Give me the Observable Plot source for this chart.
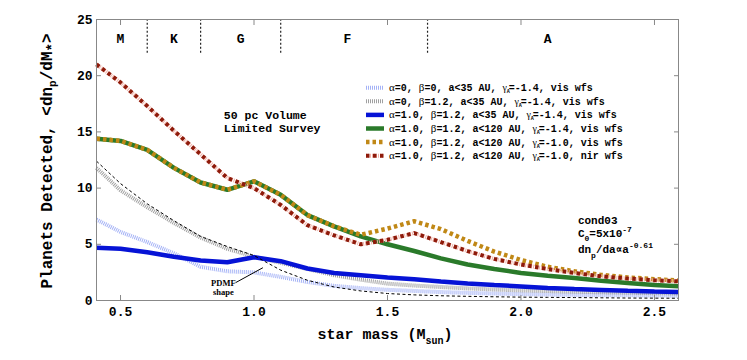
<!DOCTYPE html>
<html><head><meta charset="utf-8">
<script src="https://cdn.jsdelivr.net/npm/d3@7"></script>
<script src="https://cdn.jsdelivr.net/npm/@observablehq/plot@0.6"></script>
<style>body{margin:0;background:#fff}</style>
</head><body><div id="chart"></div>
<script>
// ---- data ----
const mass = [0.41,0.5,0.6,0.7,0.8,0.9,1.0,1.1,1.2,1.3,1.4,1.5,1.6,1.7,1.8,1.9,2.0,2.1,2.2,2.3,2.4,2.5,2.59];
const a0b0 = [7.2,6.1,5.2,4.2,3.0,2.6,2.5,2.1,1.65,1.3,1.1,0.95,0.85,0.75,0.68,0.62,0.57,0.53,0.5,0.48,0.46,0.44,0.43];
const a0b12 = [11.8,9.8,8.3,6.9,5.6,4.6,3.9,3.35,2.8,2.25,1.85,1.5,1.33,1.2,1.08,0.98,0.9,0.84,0.78,0.73,0.69,0.65,0.62];
const a1b12a35 = [4.7,4.6,4.3,3.9,3.55,3.4,3.85,3.5,2.85,2.45,2.25,2.05,1.9,1.7,1.52,1.38,1.25,1.12,1.02,0.94,0.86,0.8,0.76];
const a1b12a120g14 = [14.4,14.2,13.4,11.8,10.5,9.85,10.6,9.4,7.6,6.6,5.7,5.0,4.4,3.75,3.2,2.8,2.45,2.2,2.0,1.75,1.55,1.38,1.27];
const a1b12a120g10vis = [14.4,14.2,13.4,11.8,10.5,9.85,10.6,9.4,7.6,6.6,5.85,6.4,7.05,6.35,5.3,4.35,3.6,3.0,2.6,2.28,2.05,1.9,1.78];
const a1b12a120g10nir = [21.0,19.4,17.3,15.1,13.0,10.9,10.0,8.5,6.7,5.8,5.0,5.4,6.0,5.2,4.4,3.7,3.2,2.8,2.45,2.15,1.95,1.8,1.7];
const pdmfShape = [12.4,10.4,8.6,7.1,5.7,4.8,4.0,2.7,1.8,1.2,0.85,0.62,0.5,0.42,0.37,0.33,0.3,0.28,0.26,0.24,0.22,0.21,0.2];

const spectralBounds = [0.6, 0.8, 1.1, 1.65];
const spectralTypes = ["M","K","G","F","A"];
const spectralLabelX = [0.5, 0.7, 0.95, 1.35, 2.1];
const xTicks = [0.5, 1.0, 1.5, 2.0, 2.5];
const yTicks = [0, 5, 10, 15, 20, 25];

const legendLabels = [
  ["α","=0, ","β","=0, a<35 AU, ","γ","A","=-1.4, vis wfs"],
  ["α","=0, ","β","=1.2, a<35 AU, ","γ","A","=-1.4, vis wfs"],
  ["α","=1.0, ","β","=1.2, a<35 AU, ","γ","A","=-1.4, vis wfs"],
  ["α","=1.0, ","β","=1.2, a<120 AU, ","γ","A","=-1.4, vis wfs"],
  ["α","=1.0, ","β","=1.2, a<120 AU, ","γ","A","=-1.0, vis wfs"],
  ["α","=1.0, ","β","=1.2, a<120 AU, ","γ","A","=-1.0, nir wfs"]
];

// ---- styles ----
const styles = [
  {y: a0b0, layers: [{stroke: "#a4b2f6", w: 4, dash: "1,1"}]},
  {y: a0b12, layers: [{stroke: "#a0a0a0", w: 4, dash: "1,1"}]},
  {y: a1b12a35, layers: [{stroke: "#0613d6", w: 4.5, dash: null}]},
  {y: a1b12a120g14, layers: [{stroke: "#2a7a2a", w: 4.5, dash: null}]},
  {y: a1b12a120g10vis, layers: [{stroke: "#c08816", w: 4.5, dash: "3.5,3"}]},
  {y: a1b12a120g10nir, layers: [{stroke: "#f2b4aa", w: 4, dash: "1,1"}, {stroke: "#8e1a0a", w: 4, dash: "3.5,3.5"}]}
];

const font = "Liberation Mono, Courier New, monospace";
const seriesMarks = styles.flatMap(s => s.layers.map(l =>
  Plot.line(mass.map((m, i) => ({m, v: s.y[i]})), {x: "m", y: "v", stroke: l.stroke, strokeWidth: l.w, strokeDasharray: l.dash, strokeLinecap: "butt", strokeLinejoin: "miter"})
));

const chart = Plot.plot({
  width: 747, height: 360,
  marginLeft: 96, marginRight: 69, marginTop: 19, marginBottom: 60,
  x: {domain: [0.41, 2.59]},
  y: {domain: [0, 25]},
  style: {fontFamily: font, fontWeight: "bold", fontSize: "13px", background: "#fff", color: "#000"},
  marks: [
    ...seriesMarks,
    Plot.line(mass.map((m, i) => ({m, v: pdmfShape[i]})), {x: "m", y: "v", stroke: "#000", strokeWidth: 1, strokeDasharray: "3,2.5", strokeLinecap: "butt"}),
    Plot.ruleX(spectralBounds, {x: d => d, y1: 22.0, y2: 25, stroke: "#222", strokeWidth: 1.2, strokeDasharray: "2,2"}),
    Plot.text(spectralTypes, {x: (d, i) => spectralLabelX[i], y: 23.3, text: d => d, fontSize: 13, fontWeight: "bold"}),
    Plot.text(["50 pc Volume\nLimited Survey"], {x: 0.887, y: 15.95, text: d => d, textAnchor: "start", lineHeight: 1.1, fontSize: 11.5, fontWeight: "bold"}),
    Plot.line([[0.932, 1.6], [1.032, 2.9]], {stroke: "#000", strokeWidth: 1}),
    Plot.text(["PDMF\nshape"], {x: 0.885, y: 1.15, text: d => d, fontFamily: "Liberation Serif, serif", fontSize: 8.5, fontWeight: "bold", lineHeight: 1.0}),
    Plot.frame({stroke: "#888"}),
    Plot.axisY(yTicks, {anchor: "left", tickSize: -5, tickPadding: 9, stroke: "#888", label: null}),
    Plot.axisY(yTicks.slice(1, -1), {anchor: "right", tickSize: -5, tickFormat: () => "", stroke: "#888", label: null}),
    Plot.axisX(xTicks, {anchor: "bottom", tickSize: -5, tickPadding: 11, tickFormat: d3.format(".1f"), stroke: "#888", label: null}),
    Plot.axisX(xTicks, {anchor: "top", tickSize: -5, tickFormat: () => "", stroke: "#888", label: null})
  ]
});

document.getElementById("chart").append(chart);
const svg = d3.select(chart);
const sx = chart.scale("x"), sy = chart.scale("y");

// y axis title
const yt = svg.append("text").attr("transform", "translate(52,161) rotate(-90)")
  .attr("text-anchor", "middle").attr("font-family", font).attr("font-weight", "bold").attr("font-size", 16).attr("fill", "#000");
yt.append("tspan").text("Planets Detected, <dn");
yt.append("tspan").attr("font-size", 11).attr("dy", 4).text("p");
yt.append("tspan").attr("dy", -4).text("/dM");
yt.append("tspan").attr("font-size", 14).attr("dy", 5).text("*");
yt.append("tspan").attr("dy", -5).text(">");

// x axis title
const xt = svg.append("text").attr("x", 385).attr("y", 339)
  .attr("text-anchor", "middle").attr("font-family", font).attr("font-weight", "bold").attr("font-size", 15).attr("fill", "#000");
xt.append("tspan").text("star mass (M");
xt.append("tspan").attr("font-size", 10).attr("dy", 5).text("sun");
xt.append("tspan").attr("dy", -5).text(")");

// model annotation
const ax = sx.apply(2.215);
const ann = svg.append("g").attr("font-family", font).attr("font-weight", "bold").attr("font-size", 11).attr("fill", "#000").attr("text-anchor", "start");
ann.append("text").attr("x", ax).attr("y", sy.apply(6.76)).text("cond03");
const c0 = ann.append("text").attr("x", ax).attr("y", sy.apply(5.6));
c0.append("tspan").text("C");
c0.append("tspan").attr("font-size", 8).attr("dy", 4).text("0");
c0.append("tspan").attr("dy", -4).text("=5x10");
c0.append("tspan").attr("font-size", 8).attr("dy", -5).text("-7");
const dn = ann.append("text").attr("x", ax).attr("y", sy.apply(4.18));
dn.append("tspan").text("dn");
dn.append("tspan").attr("font-size", 8).attr("dy", 5).text("p");
dn.append("tspan").attr("dy", -5).text("/da∝a");
dn.append("tspan").attr("font-size", 8).attr("dy", -5).text("-0.61");

// legend
const lg = svg.append("g").attr("text-anchor", "start");
legendLabels.forEach((parts, i) => {
  const y = 87.7 + i * 13.6;
  styles[i].layers.forEach(l => {
    lg.append("line").attr("x1", 366).attr("x2", 384).attr("y1", y).attr("y2", y)
      .attr("stroke", l.stroke).attr("stroke-width", l.w).attr("stroke-dasharray", l.dash);
  });
  const t = lg.append("text").attr("x", 389).attr("y", y + 3.5).attr("font-family", font)
    .attr("font-weight", "bold").attr("font-size", 10).attr("fill", "#000");
  t.append("tspan").attr("font-family", "Liberation Serif, serif").attr("font-weight", "normal").attr("font-size", 11).text(parts[0]);
  t.append("tspan").text(parts[1]);
  t.append("tspan").attr("font-family", "Liberation Serif, serif").attr("font-weight", "normal").attr("font-size", 11).text(parts[2]);
  t.append("tspan").text(parts[3]);
  t.append("tspan").attr("font-family", "Liberation Serif, serif").attr("font-weight", "normal").attr("font-size", 10).text(parts[4]);
  t.append("tspan").attr("font-size", 5).attr("dy", 2).text(parts[5]);
  t.append("tspan").attr("dy", -2).attr("dx", -1).text(parts[6]);
});
</script>
</body></html>
